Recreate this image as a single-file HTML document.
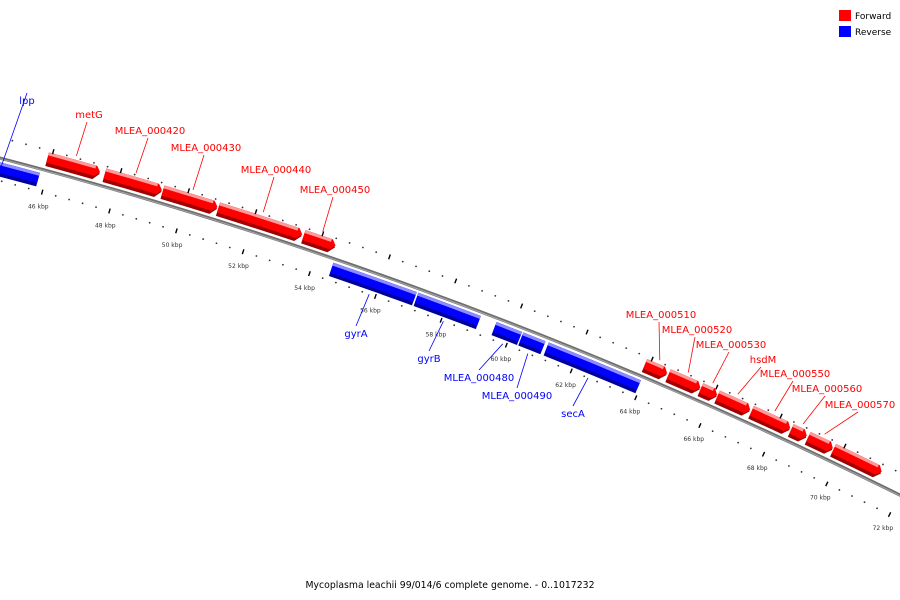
<!DOCTYPE html>
<html><head><meta charset="utf-8"><style>
html,body{margin:0;padding:0;background:#fff;}
svg{display:block;font-family:"DejaVu Sans","Liberation Sans",sans-serif;}
</style></head><body>
<svg id="map" width="900" height="600" viewBox="0 0 900 600">
<g id="layer-backbone"></g>
<g id="layer-genes"></g>
<g id="layer-ticks"></g>
<g id="layer-labels"></g>
<g>
  <rect x="839" y="10" width="12" height="11" fill="#ff0000"/>
  <text x="855" y="19" font-size="9" fill="#000">Forward</text>
  <rect x="839" y="26" width="12" height="11" fill="#0000ff"/>
  <text x="855" y="35" font-size="9" fill="#000">Reverse</text>
</g>
<text x="450" y="588" font-size="9.5" text-anchor="middle" textLength="289" lengthAdjust="spacingAndGlyphs" fill="#000">Mycoplasma leachii 99/014/6 complete genome. - 0..1017232</text>
</svg>
<script>
// ---- data (kbp) ----
const geneNames = ["lpp","metG","MLEA_000420","MLEA_000430","MLEA_000440","MLEA_000450","gyrA","gyrB","MLEA_000480","MLEA_000490","secA","MLEA_000510","MLEA_000520","MLEA_000530","hsdM","MLEA_000550","MLEA_000560","MLEA_000570","MLEA_000580"];
const geneStarts = [43.5,45.89,47.58,49.3,50.95,53.5,54.55,57.12,59.5,60.32,61.1,63.87,64.6,65.6,66.12,67.18,68.42,68.95,69.75];
const geneEnds   = [45.79,47.44,49.27,50.92,53.45,54.45,57.07,59.02,60.28,61.0,63.94,64.55,65.58,66.1,67.13,68.38,68.9,69.72,71.26];
const geneStrands = [-1,1,1,1,1,1,-1,-1,-1,-1,-1,1,1,1,1,1,1,1,1];
const geneLabeled = [1,1,1,1,1,1,1,1,1,1,1,1,1,1,1,1,1,1,0];
const tickLabelsKbp = [46,48,50,52,54,56,58,60,62,64,66,68,70,72];
const minorStepKbp = 0.4;
// label layout (text anchor points)
const labelLayout = [[27,104],[89,118],[150,134],[206,151],[276,173],[335,193],[356,337],[429,362],[479,381],[517,399],[573,417],[661,318],[697,333],[731,348],[763,363],[795,377],[827,392],[860,408],null];

// ---- geometry ----
const CX=-1178, CY=4674, R0=4667;
const DEG0=15.23, DEGPER=0.4308;
function ang(k){return (DEG0+(k-46)*DEGPER)*Math.PI/180;}
function pt(r,k){const a=ang(k);return [CX+r*Math.sin(a), CY-r*Math.cos(a)];}
function f(p){return p[0].toFixed(2)+" "+p[1].toFixed(2);}
const NS="http://www.w3.org/2000/svg";
function mk(tag,parent,attrs){const e=document.createElementNS(NS,tag);for(const k in attrs)e.setAttribute(k,attrs[k]);parent.appendChild(e);return e;}

// backbone
const bb=document.getElementById('layer-backbone');
let p=mk('path',bb,{d:"M"+f(pt(R0,38))+" A"+R0+" "+R0+" 0 0 1 "+f(pt(R0,76)),fill:"none",stroke:"#6e6e6e","stroke-width":3.2});


p=mk('path',bb,{d:"M"+f(pt(R0-0.6,38))+" A"+R0+" "+R0+" 0 0 1 "+f(pt(R0-0.6,76)),fill:"none",stroke:"#a8a8a8","stroke-width":1});



function arrowPath(ri,ro,s,e,dir,tip){
  // dir 1 forward: tip at end; -1 reverse: tip at start
  const rm=(ri+ro)/2;
  if(dir>0){const b=Math.max(s,e-tip);
    return "M"+f(pt(ro,s))+" A"+ro+" "+ro+" 0 0 1 "+f(pt(ro,b))+(tip>0?" L"+f(pt(rm,e)):"")+" L"+f(pt(ri,b))+" A"+ri+" "+ri+" 0 0 0 "+f(pt(ri,s))+" Z";}
  const b=Math.min(e,s+tip);
  return "M"+f(pt(ro,b))+" A"+ro+" "+ro+" 0 0 1 "+f(pt(ro,e))+" L"+f(pt(ri,e))+" A"+ri+" "+ri+" 0 0 0 "+f(pt(ri,b))+(tip>0?" L"+f(pt(rm,s)):"")+" Z";
}
const gl=document.getElementById('layer-genes');
const TIP=0.16;
for(let i=0;i<geneNames.length;i++){
  const s=geneStarts[i],e=geneEnds[i],d=geneStrands[i];
  const g=mk('g',gl,{});
  
  
  let ri,ro,dark,mid,light;
  if(d>0){ri=R0+4;ro=R0+18;dark="#a00000";mid="#ff0000";light="#ff9a9a";}
  else{ri=R0-18;ro=R0-4;dark="#00009a";mid="#0000ff";light="#8c8cff";}
  const tip=d>0?TIP:0;
  mk('path',g,{d:arrowPath(ri,ro,s,e,d,tip),fill:dark});
  mk('path',g,{d:arrowPath(ri+3.5,ro,s,e,d,tip*0.8),fill:mid});
  mk('path',g,{d:arrowPath(ro-3,ro,s,d>0?e-tip:e,1,0),fill:light});
}

// tick rings
const tl=document.getElementById('layer-ticks');
const RIN=R0-22, ROUT=R0+20;
for(let k=40;k<=76.001;k+=minorStepKbp){
  const kk=Math.round(k*10)/10;
  if(Math.abs(kk/2-Math.round(kk/2))<1e-6) continue;
  for(const r of [RIN,ROUT]){
    const c=pt(r,kk);
    const d=mk('circle',tl,{cx:c[0].toFixed(2),cy:c[1].toFixed(2),r:0.9,fill:"#333"});
    
    
  }
}
for(let k=40;k<=76;k+=2){
  for(const r of [RIN,ROUT]){
    const a=pt(r-2.5,k),b=pt(r+2.5,k);
    const l=mk('line',tl,{x1:a[0],y1:a[1],x2:b[0],y2:b[1],stroke:"#000","stroke-width":1.4});
    
    
  }
}
for(const k of tickLabelsKbp){
  const c=pt(RIN-15,k);
  const t=mk('text',tl,{x:c[0].toFixed(1),y:(c[1]+2).toFixed(1),"font-size":6,"text-anchor":"middle",fill:"#333"});
  t.textContent=k+" kbp";
  
  
}

// labels
const ll=document.getElementById('layer-labels');
for(let i=0;i<geneNames.length;i++){
  if(!geneLabeled[i]||!labelLayout[i]) continue;
  const [lx,ly]=labelLayout[i];
  const d=geneStrands[i];
  const col=d>0?"#ff0000":"#0000ff";
  const mk2=(geneStarts[i]+geneEnds[i])/2;
  const anchor=d>0?pt(R0+22,mk2):pt(R0-22,mk2);
  const end=d>0?[lx-2,ly+4]:[lx,ly-11];
  const l=mk('line',ll,{x1:anchor[0].toFixed(1),y1:anchor[1].toFixed(1),x2:end[0],y2:end[1],stroke:col,"stroke-width":0.8});
  
  
  const t=mk('text',ll,{x:lx,y:ly,"font-size":10,"text-anchor":"middle",fill:col});
  t.textContent=geneNames[i];
  
  
}
</script>
</body></html>
